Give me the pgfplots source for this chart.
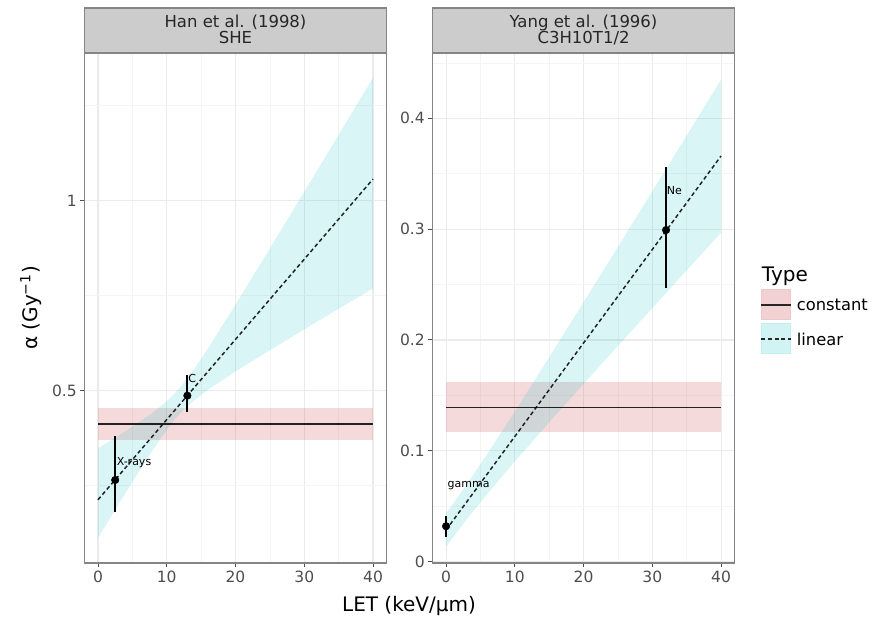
\documentclass[border=0pt]{standalone}
\usepackage{pgfplots}
\pgfplotsset{compat=1.18}
\usepackage{fontspec}
\setmainfont{DejaVu Sans}
\definecolor{cpink}{RGB}{205,70,75}
\definecolor{ccyan}{HTML}{00BFC4}
\definecolor{tickgrey}{HTML}{4D4D4D}
\definecolor{bordergrey}{HTML}{858585}
\definecolor{stripgrey}{HTML}{CCCCCC}
\definecolor{gridmaj}{HTML}{EBEBEB}
\definecolor{gridmin}{HTML}{F4F4F4}
\pgfplotsset{
  panel/.style={
    scale only axis, width=302.5pt, height=510pt,
    anchor=south west,
    xmin=-2, xmax=42,
    xtick={0,10,20,30,40}, minor xtick={5,15,25,35},
    grid=both,
    major grid style={draw=gridmaj, line width=1.1pt},
    minor grid style={draw=gridmin, line width=0.6pt},
    axis line style={draw=bordergrey, line width=1.3pt},
    xtick pos=left, ytick pos=left,
    tick align=outside, major tick length=4pt, minor tick length=0pt,
    major tick style={draw=tickgrey, line width=1pt},
    ticklabel style={font=\fontsize{15.5}{16}\selectfont, text=tickgrey},
    /pgf/number format/assume math mode=true,
    clip=false,
  },
  band/.style={draw=none, fill=#1, fill opacity=0.2},
}
\begin{document}
\begin{tikzpicture}
\useasboundingbox (0pt,0pt) rectangle (875pt,623pt);
% ---------------- left panel
\begin{axis}[panel, name=L, at={(84.25pt,60pt)},
  ymin=0.0466, ymax=1.3887, ytick={0.5,1}, minor ytick={0.25,0.75,1.25}]
\addplot[band=cpink] coordinates {(0,0.370)(40,0.370)(40,0.4545)(0,0.4545)};
\addplot[band=ccyan, fill opacity=0.15] coordinates {
(0,0.3484)(2,0.3708)(4,0.3937)(6,0.4174)(8,0.4428)(10,0.4722)(11,0.4896)(12,0.5096)(13,0.5323)(14,0.5572)(16,0.6112)(20,0.7264)(24,0.8446)(28,0.9639)(32,1.0835)(36,1.2034)(40,1.3235)
(40,0.7695)(36,0.7264)(32,0.6831)(28,0.6395)(24,0.5956)(20,0.5506)(16,0.5026)(14,0.4750)(13,0.4591)(12,0.4410)(11,0.4202)(10,0.3968)(8,0.3446)(6,0.2884)(4,0.2305)(2,0.1718)(0,0.1126)};
\addplot[black, opacity=0.85, line width=1.5pt] coordinates {(0,0.4124)(40,0.4124)};
\addplot[black, opacity=0.85, line width=1.5pt, dash pattern=on 4pt off 2.8pt] coordinates {(0,0.213)(40,1.057)};
\addplot[only marks, mark=*, mark size=3.8pt, black,
  error bars/.cd, y dir=both, y explicit, error mark=none,
  error bar style={line width=1.8pt, black}]
  coordinates {(2.5,0.265) += (0,0.116) -= (0,0.083)
               (13,0.487) += (0,0.054) -= (0,0.044)};
\node[anchor=west, inner sep=0pt, font=\fontsize{11}{11}\selectfont] at (axis cs:2.7,0.31) {X-rays};
\node[anchor=west, inner sep=0pt, font=\fontsize{11}{11}\selectfont] at (axis cs:13.1,0.533) {C};
\end{axis}
% ---------------- right panel
\begin{axis}[panel, name=R, at={(432.3pt,60pt)},
  ymin=-0.00117, ymax=0.4589, ytick={0,0.1,0.2,0.3,0.4},
  minor ytick={0.05,0.15,0.25,0.35,0.45},
  yticklabel style={/pgf/number format/fixed}]
\addplot[band=cpink] coordinates {(0,0.1173)(40,0.1173)(40,0.1624)(0,0.1624)};
\addplot[band=ccyan, fill opacity=0.15] coordinates {
(0,0.0436)(2,0.0608)(4,0.0788)(6,0.0973)(8,0.1162)(10,0.1355)(15,0.1844)(20,0.2341)(25,0.2840)(30,0.3342)(35,0.3845)(40,0.4348)
(40,0.2968)(35,0.2628)(30,0.2288)(25,0.1947)(20,0.1603)(15,0.1257)(10,0.0904)(8,0.0759)(6,0.0611)(4,0.0459)(2,0.0301)(0,0.0136)};
\addplot[black, opacity=0.85, line width=1.5pt] coordinates {(0,0.1393)(40,0.1393)};
\addplot[black, opacity=0.85, line width=1.5pt, dash pattern=on 4pt off 2.8pt] coordinates {(0,0.0286)(40,0.366)};
\addplot[only marks, mark=*, mark size=3.8pt, black,
  error bars/.cd, y dir=both, y explicit, error mark=none,
  error bar style={line width=1.8pt, black}]
  coordinates {(0,0.032) += (0,0.009) -= (0,0.010)
               (32,0.2992) += (0,0.0572) -= (0,0.0526)};
\node[anchor=west, inner sep=0pt, font=\fontsize{11}{11}\selectfont] at (axis cs:0.2,0.0683) {gamma};
\node[anchor=west, inner sep=0pt, font=\fontsize{11}{11}\selectfont] at (axis cs:32.1,0.3347) {Ne};
\end{axis}
% ---------------- strips
\foreach \p in {L,R}{
  \draw[draw=bordergrey, fill=stripgrey, line width=1.3pt] (\p.north west) rectangle ([yshift=45pt]\p.north east);
}
\node[anchor=base, inner sep=0pt, font=\fontsize{16.5}{16}\selectfont, text=black!85] at ([yshift=25.7pt]L.north) {Han et al. (1998)};
\node[anchor=base, inner sep=0pt, font=\fontsize{16.5}{16}\selectfont, text=black!85] at ([yshift=9.7pt]L.north) {SHE};
\node[anchor=base, inner sep=0pt, font=\fontsize{16.5}{16}\selectfont, text=black!85] at ([yshift=25.7pt]R.north) {Yang et al. (1996)};
\node[anchor=base, inner sep=0pt, font=\fontsize{16.5}{16}\selectfont, text=black!85] at ([yshift=9.7pt]R.north) {C3H10T1/2};
% ---------------- axis titles
\node[inner sep=0pt, font=\fontsize{20}{24}\selectfont] at (409pt,17pt) {LET (keV/μm)};
\node[inner sep=0pt, rotate=90, font=\fontsize{20}{24}\selectfont] at (31pt,315pt) {α (Gy\textsuperscript{−1})};
% ---------------- legend
\node[anchor=base west, inner sep=0pt, font=\fontsize{20}{24}\selectfont] at (761.7pt,341.3pt) {Type};
\fill[cpink, opacity=0.25] (761pt,303pt) rectangle (790.7pt,333pt);
\draw[cpink!30, line width=1pt] (761pt,303pt) rectangle (790.7pt,333pt);
\draw[black!85, line width=1.5pt] (761pt,318pt) -- (790.7pt,318pt);
\fill[ccyan, opacity=0.18] (761pt,269pt) rectangle (790.7pt,299pt);
\draw[ccyan!25, line width=1pt] (761pt,269pt) rectangle (790.7pt,299pt);
\draw[black!85, line width=1.5pt, dash pattern=on 4pt off 2.8pt] (761pt,284pt) -- (790.7pt,284pt);
\node[anchor=west, inner sep=0pt, font=\fontsize{16.3}{18}\selectfont] at (796.7pt,318pt) {constant};
\node[anchor=west, inner sep=0pt, font=\fontsize{16.3}{18}\selectfont] at (796.7pt,284pt) {linear};
\end{tikzpicture}
\end{document}
